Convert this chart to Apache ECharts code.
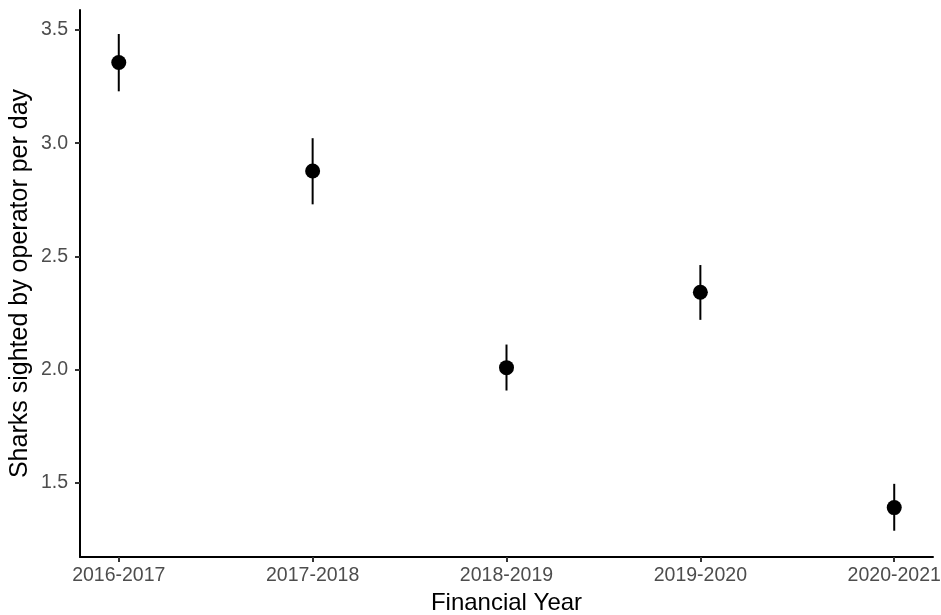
<!DOCTYPE html>
<html>
<head>
<meta charset="utf-8">
<script src="https://cdn.jsdelivr.net/npm/echarts@6/dist/echarts.min.js"></script>
<style>
  html, body { margin: 0; padding: 0; background: #fff; }
  #chart { width: 941px; height: 615px; }
</style>
</head>
<body>
<div id="chart"></div>
<script>
// Financial years on the x axis
const years = ['2016-2017', '2017-2018', '2018-2019', '2019-2020', '2020-2021'];
// Mean sharks sighted by operator per day
const means = [3.356, 2.877, 2.009, 2.342, 1.391];
// Lower and upper ends of the error bars
const lower = [3.229, 2.730, 1.908, 2.220, 1.289];
const upper = [3.482, 3.022, 2.111, 2.462, 1.496];
// Y axis tick values
const yTicks = [1.5, 2.0, 2.5, 3.0, 3.5];

const xIdx = years.map((_, i) => i);
const pointData = means.map((v, i) => [i, v]);
const barData = means.map((_, i) => [i, lower[i], upper[i]]);

const FONT = '"Liberation Sans", Arial, sans-serif';

const chart = echarts.init(document.getElementById('chart'), null, { renderer: 'canvas' });

chart.setOption({
  animation: false,
  backgroundColor: '#ffffff',
  grid: { left: 80, right: 8, top: 10, bottom: 58, containLabel: false, outerBoundsMode: 'none' },
  xAxis: {
    type: 'value',
    min: -0.2,
    max: 4.2,
    splitLine: { show: false },
    axisLine: { show: true, onZero: false, lineStyle: { color: '#000', width: 2 } },
    axisTick: { show: true, customValues: xIdx, length: 5, lineStyle: { color: '#333', width: 2 } },
    axisLabel: {
      customValues: xIdx,
      formatter: v => years[Math.round(v)],
      color: '#4d4d4d', fontSize: 19.5, fontFamily: FONT, margin: 9
    },
    name: 'Financial Year',
    nameLocation: 'middle',
    nameGap: 34,
    nameMoveOverlap: false,
    nameTextStyle: { color: '#000', fontSize: 24, fontFamily: FONT }
  },
  yAxis: {
    type: 'value',
    min: 1.173,
    max: 3.588,
    splitLine: { show: false },
    axisLine: { show: true, onZero: false, lineStyle: { color: '#000', width: 2 } },
    axisTick: { show: true, customValues: yTicks, length: 5, lineStyle: { color: '#333', width: 2 } },
    axisLabel: {
      customValues: yTicks,
      formatter: v => v.toFixed(1),
      color: '#4d4d4d', fontSize: 19.5, fontFamily: FONT, margin: 12
    },
    name: 'Sharks sighted by operator per day',
    nameLocation: 'middle',
    nameGap: 47,
    nameMoveOverlap: false,
    nameTextStyle: { color: '#000', fontSize: 25, fontFamily: FONT }
  },
  series: [
    {
      type: 'custom',
      data: barData,
      z: 2,
      renderItem: (params, api) => {
        const top = api.coord([api.value(0), api.value(2)]);
        const bot = api.coord([api.value(0), api.value(1)]);
        return {
          type: 'line',
          shape: { x1: top[0], y1: top[1], x2: bot[0], y2: bot[1] },
          style: { stroke: '#000', lineWidth: 2 }
        };
      }
    },
    {
      type: 'scatter',
      data: pointData,
      symbol: 'circle',
      symbolSize: 15,
      z: 3,
      itemStyle: { color: '#000', opacity: 1 }
    }
  ]
});
</script>
</body>
</html>
